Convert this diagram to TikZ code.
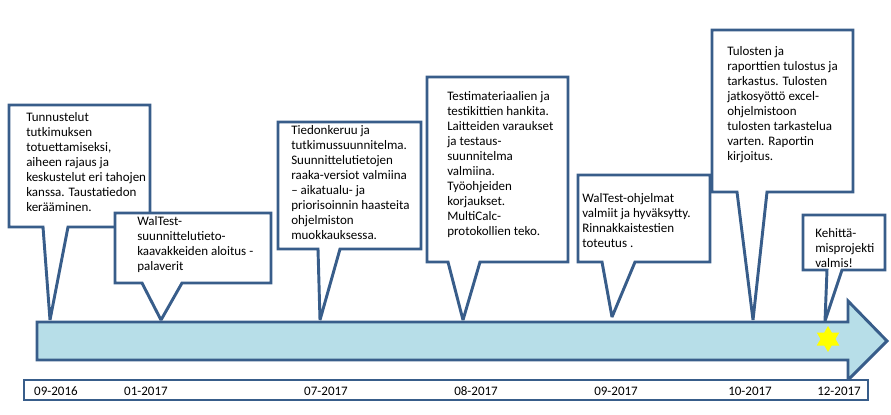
\documentclass[tikz,border=0pt]{standalone}
\usepackage{fontspec}
\setmainfont{Carlito}
\definecolor{bordercol}{RGB}{56,93,138}
\definecolor{arrowfill}{RGB}{183,222,232}
\definecolor{staryellow}{RGB}{255,255,0}
\tikzset{
  callout/.style={draw=bordercol, line width=2.2pt, fill=white, line join=miter, miter limit=2},
  ctext/.style={anchor=north west, inner sep=0pt, align=left, font=\fontsize{9.75}{11.25}\selectfont},
  datelab/.style={font=\fontsize{9.75}{11}\selectfont, inner sep=0pt},
}
\begin{document}
\begin{tikzpicture}[x=0.75pt,y=-0.75pt]
\useasboundingbox (0,0) rectangle (891,414);
% timeline arrow
\draw[draw=bordercol, line width=2.2pt, fill=arrowfill, line join=miter]
  (37,322) -- (848,322) -- (848,301) -- (887,341) -- (848,380) -- (848,360) -- (37,360) -- cycle;
% six-pointed star
\coordinate (goal) at (828,339);
\fill[staryellow, nonzero rule]
  ([shift={(90:13)}]goal) -- ([shift={(210:13)}]goal) -- ([shift={(330:13)}]goal) -- cycle
  ([shift={(270:13)}]goal) -- ([shift={(30:13)}]goal) -- ([shift={(150:13)}]goal) -- cycle;
% date bar
\draw[draw=bordercol, line width=2.2pt, fill=white] (24,380) rectangle (868,400);
\node[datelab] (d1) at (56,391) {09-2016};
\node[datelab] (d2) at (146,391) {01-2017};
\node[datelab] (d3) at (326,391) {07-2017};
\node[datelab] (d4) at (476,391) {08-2017};
\node[datelab] (d5) at (616,391) {09-2017};
\node[datelab] (d6) at (750,391) {10-2017};
\node[datelab] (d7) at (839,391) {12-2017};
% callouts
\draw[callout] (9,105) -- (150,105) -- (150,227) -- (68,227) -- (50,320) -- (43,227) -- (9,227) -- cycle;
\node[ctext] (t1) at (26,112) {Tunnustelut\\tutkimuksen\\totuettamiseksi,\\aiheen rajaus ja\\keskustelut eri tahojen\\kanssa. Taustatiedon\\kerääminen.};
\draw[callout] (115,213) -- (271,213) -- (271,283) -- (182,283) -- (161,320) -- (142,283) -- (115,283) -- cycle;
\node[ctext] (t2) at (137,216) {WalTest-\\suunnittelutieto-\\kaavakkeiden aloitus -\\palaverit};
\draw[callout] (278,122) -- (421,122) -- (421,249) -- (340,249) -- (320,320) -- (318,249) -- (278,249) -- cycle;
\node[ctext] (t3) at (291,125) {Tiedonkeruu ja\\tutkimussuunnitelma.\\Suunnittelutietojen\\raaka-versiot valmiina\\– aikatualu- ja\\priorisoinnin haasteita\\ohjelmiston\\muokkauksessa.};
\draw[callout] (427,77) -- (568,77) -- (568,262) -- (480,262) -- (463,320) -- (448,262) -- (427,262) -- cycle;
\node[ctext] (t4) at (447,91) {Testimateriaalien ja\\testikittien hankita.\\Laitteiden varaukset\\ja testaus-\\suunnitelma\\valmiina.\\Työohjeiden\\korjaukset.\\MultiCalc-\\protokollien teko.};
\draw[callout] (578,175) -- (710,175) -- (710,262) -- (635,262) -- (612,317) -- (602,262) -- (578,262) -- cycle;
\node[ctext] (t5) at (582,193) {WalTest-ohjelmat\\valmiit ja hyväksytty.\\Rinnakkaistestien\\toteutus .};
\draw[callout] (712,30) -- (853,30) -- (853,192) -- (767,192) -- (753,320) -- (737,192) -- (712,192) -- cycle;
\node[ctext] (t6) at (727,46) {Tulosten ja\\raporttien tulostus ja\\tarkastus. Tulosten\\jatkosyöttö excel-\\ohjelmistoon\\tulosten tarkastelua\\varten. Raportin\\kirjoitus.};
\draw[callout] (803,215) -- (885,215) -- (885,270) -- (842,270) -- (825,321) -- (827,270) -- (803,270) -- cycle;
\node[ctext] (t7) at (815,228) {Kehittä-\\misprojekti\\valmis!};
\end{tikzpicture}
\end{document}
